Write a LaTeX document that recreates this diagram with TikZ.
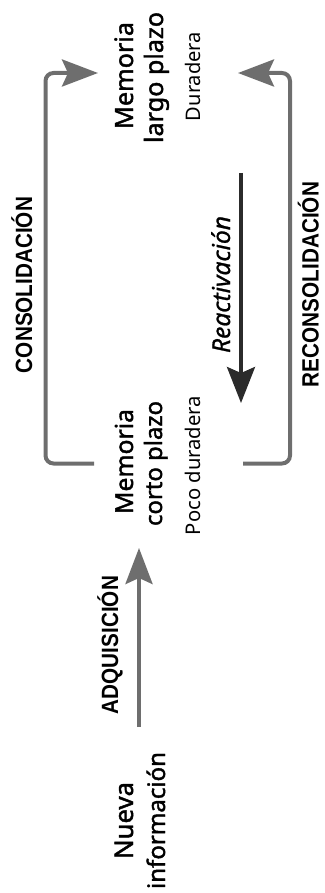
\documentclass[tikz,border=0pt]{standalone}
\usepackage{graphicx}
\usepackage{fontspec}
\setmainfont{Noto Sans}
\newfontfamily\titlefont{Noto Sans}[FakeBold=1.6]
\newfontfamily\descfont{Noto Sans}
\newfontfamily\italfont{Noto Sans}[FakeBold=1.0]
\newfontfamily\labfont{Liberation Sans}[FakeStretch=0.88]
\usetikzlibrary{arrows.meta}
\definecolor{arrgray}{HTML}{6E6E6E}
\definecolor{arrdark}{HTML}{2B2B2B}
\newcommand{\fitw}[2]{\resizebox{#1pt}{!}{#2}}
\begin{document}
\begin{tikzpicture}[x=1pt,y=-1pt,
  titleline/.style={rotate=90, inner sep=0pt, anchor=base, font=\titlefont\fontsize{24}{30}\selectfont},
  descbox/.style={rotate=90, inner sep=0pt, anchor=base, font=\descfont\fontsize{19.5}{22}\selectfont},
  labbox/.style={rotate=90, inner sep=0pt, anchor=base, font=\labfont\bfseries\fontsize{22}{24}\selectfont},
  italbox/.style={rotate=90, inner sep=0pt, anchor=base, font=\italfont\itshape\fontsize{23}{24}\selectfont},
  grayarrow/.style={draw=arrgray, line width=4pt, rounded corners=8pt, -{Stealth[length=36pt,width=27pt,inset=6pt]}},
  darkarrow/.style={draw=arrdark, line width=3.5pt, -{Stealth[length=36pt,width=28pt,inset=6pt]}}
]
\useasboundingbox (0,0) rectangle (324,893);
% text nodes
\node[titleline] (largo1) at (133,75.5) {\fitw{107}{Memoria}};
\node[titleline] (largo2) at (163,77.5) {\fitw{131}{largo plazo}};
\node[descbox] (largodesc) at (200,76.5) {\fitw{89}{Duradera}};
\node[titleline] (corto1) at (133,461.5) {\fitw{105}{Memoria}};
\node[titleline] (corto2) at (162,463.5) {\fitw{125}{corto plazo}};
\node[descbox] (cortodesc) at (200,465.5) {\fitw{139}{Poco duradera}};
\node[titleline] (nueva1) at (133,820.5) {\fitw{77}{Nueva}};
\node[titleline] (nueva2) at (165,820.5) {\fitw{137}{información}};
\node[labbox] (consol) at (32,285) {\fitw{176}{CONSOLIDACIÓN}};
\node[labbox] (recons) at (318.5,284.5) {\fitw{205}{RECONSOLIDACIÓN}};
\node[labbox] (adq) at (118,645) {\fitw{138}{ADQUISICIÓN}};
\node[italbox] (react) at (230,284.5) {\fitw{137}{Reactivación}};
% connector end points
\coordinate (cl-start) at (94,463.5);
\coordinate (cl-low) at (45.5,463.5);
\coordinate (cl-high) at (45.5,73);
\coordinate (cl-tip) at (98,73);
\coordinate (cr-start) at (243,463.5);
\coordinate (cr-low) at (290,463.5);
\coordinate (cr-high) at (290,73);
\coordinate (cr-tip) at (238,73);
\coordinate (re-start) at (241,173);
\coordinate (re-tip) at (241,403);
\coordinate (ad-start) at (139,727);
\coordinate (ad-tip) at (139,548);
% connectors
\draw[grayarrow] (cl-start) -- (cl-low) -- (cl-high) -- (cl-tip);
\draw[grayarrow] (cr-start) -- (cr-low) -- (cr-high) -- (cr-tip);
\draw[darkarrow] (re-start) -- (re-tip);
\draw[grayarrow] (ad-start) -- (ad-tip);
\end{tikzpicture}
\end{document}
